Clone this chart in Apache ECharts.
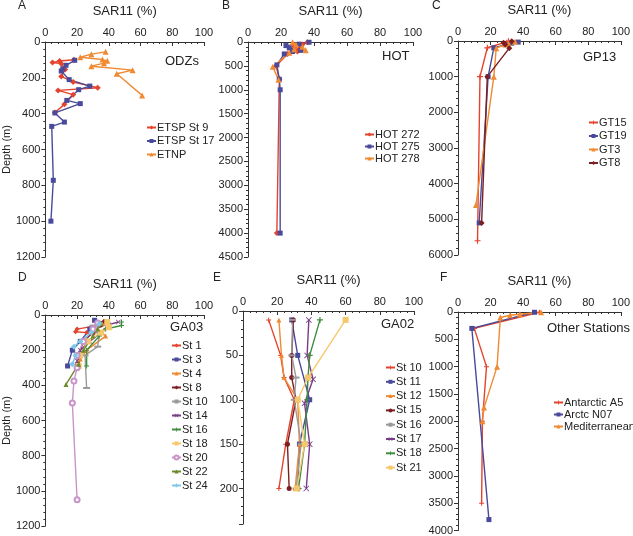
<!DOCTYPE html>
<html>
<head>
<meta charset="utf-8">
<script src="https://cdn.jsdelivr.net/npm/echarts@6/dist/echarts.min.js"></script>
<style>
html,body{margin:0;padding:0;background:#fff;}
#chart{width:633px;height:536px;}
</style>
</head>
<body>
<div id="chart"></div>
<script>
// [SAR11 %, depth m]
// A - ODZs
var etsp9 = [[18,99],[9,106],[4.5,115],[10,121],[12.5,153],[10,192],[17.5,223],[33,255],[8,270],[17.5,294],[12,348],[6,394]];
var etsp17 = [[18.5,102],[13,130],[11,150],[10,162],[15,210],[28,246],[21,266],[13.5,326],[22,344],[6,396],[12,447],[4,471],[5,772],[3.5,1000]];
var etnp = [[38,55],[29,68],[22,85],[36,98],[39,105],[37,118],[29,135],[55,157],[45,177],[61,298]];
// B - HOT
var hot272 = [[36,5],[33,50],[28,100],[31,150],[30,200],[24,250],[17,500],[19,780],[17.5,4000]];
var hot275 = [[37,5],[31,45],[23,75],[25,125],[32,175],[27,200],[22,250],[17.5,480],[19,780],[19.5,1000],[19.5,4000]];
var hot278 = [[27,5],[29,50],[33,100],[28,150],[35,175],[25,225],[15,520],[18.5,790]];
// C - GP13
var gt15 = [[31,10],[30,50],[18,190],[13.5,1000],[12,5600]];
var gt19 = [[37,30],[33,60],[30,100],[22,190],[18.5,1000],[13,5100]];
var gt3 = [[35,20],[31,60],[29,100],[23.5,200],[22,1000],[11,4600]];
var gt8 = [[33,10],[28,50],[29,100],[31.5,200],[18,1000],[14.5,5100]];
// D - GA03
var d1 = [[32,35],[36,55],[20,80],[19,95],[26,100],[30,110]];
var d3 = [[31,30],[38,45],[28,80],[22,150],[17,200],[14,290]];
var d4 = [[36,50],[33,80],[38,120],[26,200],[22,250],[20,300]];
var d8 = [[37,35],[35,60],[30,100],[24,150],[21,230],[20,280]];
var d10 = [[30,60],[34,100],[33,180],[25,230],[26,415]];
var d14 = [[46,40],[40,55],[35,100],[28,150],[22,200],[20,260]];
var d16 = [[48,40],[48,60],[38,80],[34,120],[26,200],[26,290]];
var d18 = [[39,40],[40,70],[35,100],[27,150],[22,230],[21,290]];
var d20 = [[33,45],[30,80],[24,150],[20,230],[20,300],[18,375],[17,500],[20,1050]];
var d22 = [[35,50],[33,80],[30,120],[24,200],[21,280],[13,395]];
var d24 = [[34,50],[29,100],[22,150],[18,180],[19,230],[17,280]];
// E - GA02
var e10 = [[15,10],[22,50],[24,75],[30,100],[25,150],[21,200]];
var e11 = [[28.5,10],[32,50],[39,100],[33,150],[32,200]];
var e12 = [[21,10],[22.5,50],[24,75],[32,100],[33,150],[30.5,200]];
var e15 = [[29.5,10],[28.5,50],[28.5,75],[31,100],[26,150],[27,200]];
var e16 = [[29,10],[28.5,50],[31,75],[30,100],[34,150],[31,200]];
var e17 = [[38.5,10],[37.5,50],[41,77],[36,104],[39,150],[37,200]];
var e18 = [[45,10],[39,50],[38,75],[37.5,100],[36,150],[32.5,200]];
var e21 = [[60,10],[38,75],[32,100],[36,150],[31.5,200]];
// F - Other Stations
var antA5 = [[50,5],[10,300],[17.5,1000],[15,2000],[14.5,3500]];
var arcN07 = [[47,5],[8.5,300],[19,3800]];
var medit = [[51,5],[38,40],[32,60],[26,100],[24,1000],[16,1750],[15,2000]];

var depthMax = [1200, 4500, 6000, 1200, 240, 4000];
var depthStep = [200, 500, 1000, 200, 50, 500];

var PLUS = 'path://M4,0H6V4H10V6H6V10H4V6H0V4H4Z';
var CROSS = 'path://M0,1L1,0L5,4L9,0L10,1L6,5L10,9L9,10L5,6L1,10L0,9L4,5Z';
var DASH = 'path://M0,0H10V2H0Z';

var col = {
    red: '#e4432d',
    blue: '#4a4a9a',
    orange: '#f08a32',
    dred: '#7b1f22',
    gray: '#9a9a9a',
    purple: '#7a3b87',
    green: '#3f8c3c',
    lorange: '#f6c86c',
    pink: '#c994c9',
    olive: '#6a8a2c',
    lblue: '#7ec8e8'
};

var grids = [
    {left: 40, top: 42, width: 164, height: 215},
    {left: 248, top: 42, width: 165, height: 215},
    {left: 458, top: 41, width: 165, height: 214},
    {left: 40, top: 315, width: 164, height: 211},
    {left: 243, top: 311, width: 171, height: 213},
    {left: 458, top: 312, width: 167, height: 219}
];

var FONT = '"Liberation Sans", Arial, sans-serif';

var xAxes = [], yAxes = [];
for (var i = 0; i < 6; i++) {
    xAxes.push({
        gridIndex: i, type: 'value', position: 'top', min: 0, max: 100, interval: 20,
        name: 'SAR11 (%)', nameLocation: 'middle', nameGap: 24,
        nameTextStyle: {fontSize: 13, color: '#222', fontFamily: FONT},
        axisLine: {show: true, onZero: false, lineStyle: {color: '#333', width: 1}},
        axisTick: {show: true, inside: true, length: 4, lineStyle: {color: '#333'}},
        minorTick: {show: true, splitNumber: 5, length: 2, lineStyle: {color: '#333'}},
        splitLine: {show: false},
        axisLabel: {fontSize: 11, color: '#222', margin: 4, fontFamily: FONT}
    });
    (function (step) {
        yAxes.push({
            gridIndex: i, type: 'value', inverse: true, min: 0, max: depthMax[i], interval: step,
            name: (i === 0 || i === 3) ? 'Depth (m)' : '', nameLocation: 'middle', nameGap: 32, nameRotate: 90,
            nameTextStyle: {fontSize: 11, color: '#222', fontFamily: FONT},
            axisLine: {show: true, onZero: false, lineStyle: {color: '#333', width: 1}},
            axisTick: {show: true, length: 4, lineStyle: {color: '#333'}},
            minorTick: {show: true, splitNumber: 5, length: 2, lineStyle: {color: '#333'}},
            splitLine: {show: false},
            axisLabel: {fontSize: 11, color: '#222', margin: 5, fontFamily: FONT,
                formatter: function (v) { return (v % step === 0) ? String(v) : ''; }}
        });
    })(depthStep[i]);
}

// series names carry a panel prefix "X|" so legends don't mix panels
var series = [];
function mk(name, data, g, c, sym, size) {
    series.push({
        name: name, type: 'line', xAxisIndex: g, yAxisIndex: g, data: data,
        symbol: sym, symbolSize: size || 5, showSymbol: true,
        lineStyle: {color: c, width: 1.4},
        itemStyle: {color: c, borderColor: c, borderWidth: sym === 'emptyCircle' ? 1 : 0},
        animation: false
    });
}

mk('A|ETSP St 9', etsp9, 0, col.red, 'diamond', 6);
mk('A|ETSP St 17', etsp17, 0, col.blue, 'rect', 5);
mk('A|ETNP', etnp, 0, col.orange, 'triangle', 6);

mk('B|HOT 272', hot272, 1, col.red, 'diamond', 6);
mk('B|HOT 275', hot275, 1, col.blue, 'rect', 5);
mk('B|HOT 278', hot278, 1, col.orange, 'triangle', 6);

mk('C|GT15', gt15, 2, col.red, PLUS, 6);
mk('C|GT19', gt19, 2, col.blue, 'rect', 5);
mk('C|GT3', gt3, 2, col.orange, 'triangle', 6);
mk('C|GT8', gt8, 2, col.dred, 'diamond', 6);

mk('D|St 1', d1, 3, col.red, 'diamond', 5);
mk('D|St 3', d3, 3, col.blue, 'rect', 5);
mk('D|St 4', d4, 3, col.orange, 'triangle', 5);
mk('D|St 8', d8, 3, col.dred, 'diamond', 5);
mk('D|St 10', d10, 3, col.gray, DASH, [7, 2]);
mk('D|St 14', d14, 3, col.purple, CROSS, 5);
mk('D|St 16', d16, 3, col.green, PLUS, 5);
mk('D|St 18', d18, 3, col.lorange, 'rect', 6);
mk('D|St 20', d20, 3, col.pink, 'emptyCircle', 5);
mk('D|St 22', d22, 3, col.olive, 'triangle', 5);
mk('D|St 24', d24, 3, col.lblue, 'diamond', 6);

mk('E|St 10', e10, 4, col.red, PLUS, 5);
mk('E|St 11', e11, 4, col.blue, 'rect', 5);
mk('E|St 12', e12, 4, col.orange, 'triangle', 5);
mk('E|St 15', e15, 4, col.dred, 'circle', 5);
mk('E|St 16', e16, 4, col.gray, DASH, [7, 2]);
mk('E|St 17', e17, 4, col.purple, CROSS, 6);
mk('E|St 18', e18, 4, col.green, PLUS, 6);
mk('E|St 21', e21, 4, col.lorange, 'rect', 6);

mk('F|Antarctic A5', antA5, 5, col.red, PLUS, 5);
mk('F|Arctc N07', arcN07, 5, col.blue, 'rect', 5);
mk('F|Mediterranean', medit, 5, col.orange, 'triangle', 6);

function leg(from, to, left, top, gap) {
    var names = [];
    for (var k = from; k <= to; k++) names.push(series[k].name);
    return {
        left: left, top: top, orient: 'vertical', itemGap: gap, itemWidth: 9, itemHeight: 5,
        height: 300, selectedMode: false, padding: 0,
        formatter: function (n) { return n.split('|')[1]; },
        textStyle: {fontSize: 11, color: '#222', fontFamily: FONT, padding: [0, 0, 0, -4]},
        data: names
    };
}

var option = {
    animation: false,
    backgroundColor: '#fff',
    grid: grids,
    xAxis: xAxes,
    yAxis: yAxes,
    series: series,
    legend: [
        leg(0, 2, 146, 122, 2.5),
        leg(3, 5, 364, 129, 1),
        leg(6, 9, 588, 117, 2.5),
        leg(10, 20, 171, 340, 3),
        leg(21, 28, 385, 362, 3.3),
        leg(29, 31, 553, 397, 1)
    ],
    graphic: [
        {type: 'text', left: 18, top: 0, style: {text: 'A', fontSize: 12, fill: '#222', fontFamily: FONT}},
        {type: 'text', left: 222, top: 0, style: {text: 'B', fontSize: 12, fill: '#222', fontFamily: FONT}},
        {type: 'text', left: 432, top: 0, style: {text: 'C', fontSize: 12, fill: '#222', fontFamily: FONT}},
        {type: 'text', left: 18, top: 272, style: {text: 'D', fontSize: 12, fill: '#222', fontFamily: FONT}},
        {type: 'text', left: 213, top: 272, style: {text: 'E', fontSize: 12, fill: '#222', fontFamily: FONT}},
        {type: 'text', left: 440, top: 272, style: {text: 'F', fontSize: 12, fill: '#222', fontFamily: FONT}},
        {type: 'text', left: 165, top: 55, style: {text: 'ODZs', fontSize: 13, fill: '#222', fontFamily: FONT}},
        {type: 'text', left: 382, top: 50, style: {text: 'HOT', fontSize: 13, fill: '#222', fontFamily: FONT}},
        {type: 'text', left: 583, top: 51, style: {text: 'GP13', fontSize: 13, fill: '#222', fontFamily: FONT}},
        {type: 'text', left: 170, top: 321, style: {text: 'GA03', fontSize: 13, fill: '#222', fontFamily: FONT}},
        {type: 'text', left: 381, top: 318, style: {text: 'GA02', fontSize: 13, fill: '#222', fontFamily: FONT}},
        {type: 'text', left: 547, top: 322, style: {text: 'Other Stations', fontSize: 13, fill: '#222', fontFamily: FONT}}
    ]
};

var chart = echarts.init(document.getElementById('chart'));
chart.setOption(option);
</script>
</body>
</html>
